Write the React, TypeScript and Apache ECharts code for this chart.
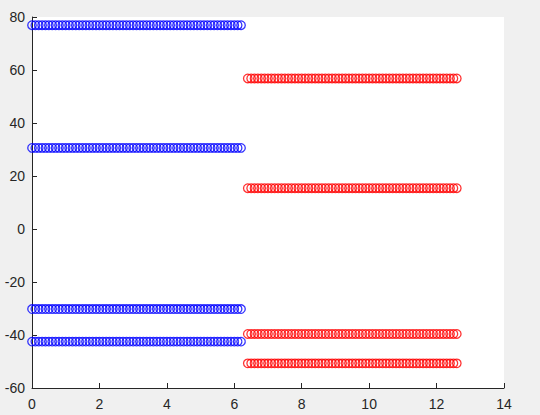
import React, { useEffect, useRef } from "react";
import * as echarts from "echarts";

// x grid of the two groups (regular sampling, step 0.1)
const blueXRange = [0, 6.2];
const redXRange = [6.4, 12.6];
const xStep = 0.1;
// constant y levels of each group
const blueLevels = [76.9, 30.6, -30.2, -42.5];
const redLevels = [56.8, 15.4, -39.6, -50.7];
const xTicks = [0, 2, 4, 6, 8, 10, 12, 14];
const yTicks = [-60, -40, -20, 0, 20, 40, 60, 80];

function grid(range: number[]): number[] {
  const out: number[] = [];
  const n = Math.round((range[1] - range[0]) / xStep);
  for (let i = 0; i <= n; i++) out.push(+(range[0] + i * xStep).toFixed(2));
  return out;
}

function points(range: number[], levels: number[]): number[][] {
  const xs = grid(range);
  const pts: number[][] = [];
  levels.forEach((y) => xs.forEach((x) => pts.push([x, y])));
  return pts;
}

export default function App() {
  const ref = useRef<HTMLDivElement>(null);
  useEffect(() => {
    if (!ref.current) return;
    const chart = echarts.init(ref.current, undefined, { renderer: "svg" });
    const axisCommon = {
      axisLine: { show: true, onZero: false, lineStyle: { color: "#262626", width: 1 } },
      axisTick: { show: true, inside: true, length: 5, lineStyle: { color: "#262626" } },
      splitLine: { show: false },
      axisLabel: { color: "#262626", fontSize: 14, fontFamily: "Liberation Sans, Arial, sans-serif" },
    };
    chart.setOption({
      animation: false,
      backgroundColor: "#f0f0f0",
      grid: {
        left: 32,
        right: 36,
        top: 17,
        bottom: 27,
        show: true,
        backgroundColor: "#ffffff",
        borderWidth: 0,
      },
      xAxis: {
        type: "value",
        min: xTicks[0],
        max: xTicks[xTicks.length - 1],
        interval: 2,
        ...axisCommon,
        axisLabel: { ...axisCommon.axisLabel, margin: 9 },
      },
      yAxis: {
        type: "value",
        min: yTicks[0],
        max: yTicks[yTicks.length - 1],
        interval: 20,
        ...axisCommon,
        axisLabel: { ...axisCommon.axisLabel, margin: 7 },
      },
      series: [
        {
          type: "scatter",
          data: points(blueXRange, blueLevels),
          symbol: "circle",
          symbolSize: 8.5,
          itemStyle: { color: "rgba(0,0,0,0)", borderColor: "#0000ff", borderWidth: 1.3 },
        },
        {
          type: "scatter",
          data: points(redXRange, redLevels),
          symbol: "circle",
          symbolSize: 8.5,
          itemStyle: { color: "rgba(0,0,0,0)", borderColor: "#ff0000", borderWidth: 1.3 },
        },
      ],
    });
    return () => chart.dispose();
  }, []);
  return (
    <div
      ref={ref}
      style={{ position: "fixed", left: 0, top: 0, width: 540, height: 415 }}
    />
  );
}
